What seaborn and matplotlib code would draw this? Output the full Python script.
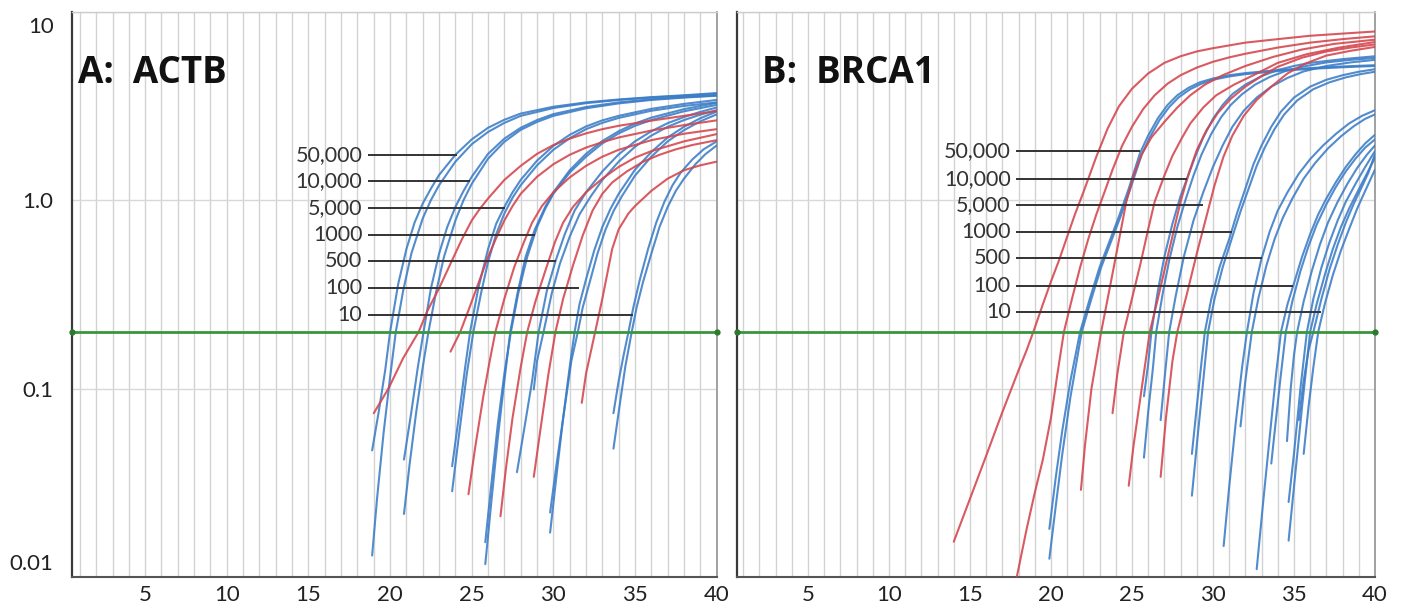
import matplotlib
matplotlib.use("Agg")
import matplotlib.pyplot as plt
import seaborn as sns
import pandas as pd
from matplotlib.ticker import NullLocator, FixedLocator
from matplotlib.transforms import ScaledTranslation

# ---------------- data ----------------
CYCLE_TICKS = [5, 10, 15, 20, 25, 30, 35, 40]
Y_TICKS = [0.01, 0.1, 1.0, 10]
Y_TICK_LABELS = ["0.01", "0.1", "1.0", "10"]
THRESHOLD = 0.2
PANEL_TITLES = ["A:  ACTB", "B:  BRCA1"]
DILUTION_LABELS = ["50,000", "10,000", "5,000", "1000", "500", "100", "10"]
ACTB_LABEL_Y = [1.73, 1.26, 0.91, 0.65, 0.475, 0.342, 0.247]
ACTB_LABEL_END = [24.1, 24.87, 27.03, 28.87, 30.15, 31.6, 34.9]
ACTB_LABEL_START = 18.65
BRCA1_LABEL_Y = [1.82, 1.30, 0.94, 0.68, 0.49, 0.352, 0.254]
BRCA1_LABEL_END = [25.5, 28.4, 29.4, 31.2, 33.0, 34.95, 36.7]
BRCA1_LABEL_START = 17.85

ACTB_BLUE = [
    [(18.9,0.047),(19.3,0.075),(19.7,0.125),(20.0,0.2),(20.5,0.36),(21.0,0.55),(21.5,0.76),(22.0,0.96),(22.5,1.15),(23.0,1.36),(24.0,1.74),(25.0,2.1),(26.0,2.42),(27.0,2.67),(28.0,2.88),(30.0,3.13),(32.0,3.3),(34.0,3.42),(36.0,3.52),(38.0,3.6),(40.0,3.7)],
    [(18.9,0.013),(19.2,0.026),(19.6,0.058),(20.0,0.115),(20.35,0.2),(20.8,0.33),(21.3,0.52),(22.0,0.8),(22.5,1.0),(23.0,1.2),(24.0,1.6),(25.0,1.98),(26.0,2.3),(27.0,2.57),(28.0,2.8),(30.0,3.08),(32.0,3.27),(34.0,3.4),(36.0,3.5),(38.0,3.58),(40.0,3.66)],
    [(20.85,0.042),(21.3,0.075),(21.7,0.13),(22.05,0.2),(22.5,0.34),(23.0,0.52),(23.5,0.72),(24.0,0.92),(24.5,1.12),(25.0,1.33),(26.0,1.76),(27.0,2.12),(28.0,2.42),(29.0,2.66),(30.0,2.86),(32.0,3.12),(34.0,3.3),(36.0,3.43),(38.0,3.52),(40.0,3.6)],
    [(20.85,0.0216),(21.2,0.04),(21.6,0.075),(22.0,0.13),(22.35,0.2),(22.8,0.32),(23.3,0.5),(24.0,0.78),(24.5,1.0),(25.0,1.22),(26.0,1.66),(27.0,2.04),(28.0,2.36),(29.0,2.6),(30.0,2.8),(32.0,3.07),(34.0,3.26),(36.0,3.4),(38.0,3.5),(40.0,3.58)],
    [(23.8,0.0387),(24.2,0.07),(24.6,0.13),(24.9,0.2),(25.4,0.34),(26.0,0.55),(26.5,0.75),(27.0,0.92),(27.5,1.1),(28.0,1.28),(29.0,1.62),(30.0,1.94),(31.0,2.22),(32.0,2.46),(33.0,2.65),(34.0,2.8),(36.0,3.05),(38.0,3.24),(40.0,3.4)],
    [(23.8,0.0285),(24.2,0.055),(24.7,0.12),(25.1,0.2),(25.6,0.33),(26.0,0.47),(26.5,0.66),(27.0,0.85),(27.5,1.03),(28.0,1.2),(29.0,1.53),(30.0,1.85),(31.0,2.13),(32.0,2.38),(33.0,2.57),(34.0,2.73),(36.0,2.98),(38.0,3.16),(40.0,3.3)],
    [(25.83,0.0117),(26.2,0.025),(26.6,0.055),(27.0,0.11),(27.36,0.2),(27.8,0.32),(28.3,0.5),(28.87,0.7),(29.5,0.92),(30.0,1.1),(31.0,1.44),(32.0,1.76),(33.0,2.06),(34.0,2.32),(35.0,2.55),(36.0,2.74),(38.0,3.04),(40.0,3.28)],
    [(25.83,0.0153),(26.2,0.031),(26.6,0.065),(27.0,0.12),(27.4,0.2),(27.85,0.32),(28.4,0.5),(29.0,0.72),(29.5,0.9),(30.0,1.08),(31.0,1.4),(32.0,1.7),(33.0,2.0),(34.0,2.26),(35.0,2.48),(36.0,2.66),(38.0,2.96),(40.0,3.2)],
    [(27.77,0.036),(28.2,0.06),(28.7,0.11),(29.1,0.2),(29.6,0.33),(30.15,0.48),(30.7,0.66),(31.3,0.88),(32.0,1.1),(33.0,1.42),(34.0,1.75),(35.0,2.05),(36.0,2.32),(37.0,2.56),(38.0,2.76),(39.0,2.94),(40.0,3.1)],
    [(28.8,0.099),(29.0,0.14),(29.4,0.2),(29.9,0.32),(30.4,0.46),(31.0,0.64),(31.6,0.84),(32.3,1.05),(33.0,1.28),(34.0,1.6),(35.0,1.92),(36.0,2.2),(37.0,2.45),(38.0,2.66),(39.0,2.84),(40.0,3.0)],
    [(29.8,0.0172),(30.2,0.035),(30.6,0.07),(31.0,0.13),(31.3,0.2),(31.6,0.28),(32.0,0.38),(32.5,0.54),(33.0,0.72),(33.5,0.9),(34.0,1.08),(35.0,1.45),(36.0,1.8),(37.0,2.15),(38.0,2.45),(39.0,2.72),(40.0,2.95)],
    [(29.8,0.022),(30.2,0.04),(30.7,0.08),(31.1,0.14),(31.5,0.2),(31.8,0.27),(32.2,0.36),(32.7,0.52),(33.2,0.7),(33.7,0.88),(34.2,1.05),(35.0,1.35),(36.0,1.7),(37.0,2.05),(38.0,2.35),(39.0,2.62),(40.0,2.85)],
    [(33.68,0.074),(34.0,0.11),(34.3,0.15),(34.6,0.2),(34.9,0.27),(35.3,0.38),(35.8,0.55),(36.3,0.76),(36.8,0.98),(37.3,1.2),(37.8,1.4),(38.5,1.64),(39.2,1.86),(40.0,2.05)],
    [(33.68,0.048),(34.0,0.075),(34.4,0.13),(34.8,0.2),(35.1,0.27),(35.5,0.37),(36.0,0.52),(36.5,0.72),(37.0,0.92),(37.5,1.12),(38.0,1.3),(38.7,1.55),(39.3,1.75),(40.0,1.95)],
]

ACTB_RED = [
    [(19.0,0.074),(19.9,0.1),(20.8,0.145),(21.75,0.2),(22.3,0.26),(23.0,0.34),(23.7,0.46),(24.4,0.62),(25.0,0.78),(25.5,0.9),(26.0,1.02),(27.0,1.28),(28.0,1.52),(29.0,1.76),(30.0,1.96),(31.0,2.12),(32.0,2.26),(33.0,2.38),(34.0,2.48),(36.0,2.64),(38.0,2.8),(40.0,2.97)],
    [(23.7,0.157),(24.3,0.2),(24.8,0.26),(25.4,0.36),(26.0,0.5),(26.5,0.63),(27.0,0.78),(27.5,0.93),(28.0,1.08),(29.0,1.33),(30.0,1.55),(31.0,1.74),(32.0,1.9),(33.0,2.03),(34.0,2.15),(36.0,2.34),(38.0,2.5),(40.0,2.65)],
    [(24.8,0.0275),(25.2,0.048),(25.7,0.09),(26.1,0.14),(26.45,0.2),(27.0,0.3),(27.6,0.44),(28.2,0.6),(28.7,0.76),(29.3,0.93),(30.0,1.1),(31.0,1.32),(32.0,1.52),(33.0,1.7),(34.0,1.85),(36.0,2.08),(38.0,2.25),(40.0,2.38)],
    [(26.76,0.021),(27.1,0.038),(27.5,0.07),(28.0,0.13),(28.4,0.2),(28.9,0.29),(29.5,0.42),(30.1,0.6),(30.6,0.76),(31.2,0.92),(32.0,1.1),(33.0,1.3),(34.0,1.5),(35.0,1.68),(36.0,1.82),(38.0,2.05),(40.0,2.24)],
    [(28.8,0.034),(29.2,0.06),(29.7,0.12),(30.13,0.2),(30.6,0.3),(31.2,0.45),(31.8,0.65),(32.4,0.88),(33.0,1.08),(33.6,1.24),(34.5,1.42),(35.5,1.6),(36.5,1.74),(37.5,1.86),(38.5,1.96),(40.0,2.08)],
    [(31.74,0.084),(32.0,0.12),(32.56,0.2),(33.0,0.3),(33.6,0.55),(34.0,0.7),(34.6,0.85),(35.0,0.93),(36.0,1.12),(37.0,1.3),(38.0,1.44),(39.0,1.53),(40.0,1.6)],
]

BRCA1_BLUE = [
    [(19.9,0.018),(20.3,0.034),(20.7,0.06),(21.2,0.11),(21.8,0.2),(22.4,0.3),(23.0,0.44),(23.6,0.6),(24.2,0.82),(24.8,1.15),(25.5,1.78),(26.0,2.2),(26.6,2.72),(27.2,3.2),(27.8,3.6),(28.5,3.95),(29.2,4.22),(30.0,4.42),(31.0,4.6),(32.0,4.72),(34.0,4.9),(36.0,5.02),(38.0,5.12),(40.0,5.2)],
    [(19.9,0.0125),(20.3,0.024),(20.7,0.045),(21.2,0.09),(21.9,0.2),(22.5,0.3),(23.1,0.44),(23.7,0.6),(24.3,0.82),(24.9,1.15),(25.6,1.74),(26.1,2.15),(26.7,2.66),(27.3,3.12),(27.9,3.52),(28.6,3.88),(29.3,4.15),(30.0,4.35),(31.0,4.53),(32.0,4.66),(34.0,4.84),(36.0,4.97),(38.0,5.07),(40.0,5.15)],
    [(25.74,0.091),(26.0,0.135),(26.2,0.2),(26.6,0.33),(27.0,0.5),(27.5,0.75),(28.0,1.05),(28.4,1.3),(28.9,1.7),(29.4,2.15),(30.0,2.7),(30.6,3.2),(31.2,3.65),(32.0,4.1),(33.0,4.55),(34.0,4.9),(35.0,5.15),(36.0,5.35),(38.0,5.6),(40.0,5.8)],
    [(25.74,0.043),(26.0,0.075),(26.3,0.13),(26.5,0.2),(26.9,0.32),(27.3,0.48),(27.8,0.72),(28.3,1.0),(28.8,1.35),(29.3,1.75),(29.9,2.25),(30.5,2.75),(31.1,3.2),(31.8,3.65),(32.6,4.1),(33.5,4.5),(34.5,4.85),(35.5,5.1),(37.0,5.38),(38.5,5.55),(40.0,5.68)],
    [(26.77,0.068),(27.0,0.11),(27.3,0.2),(27.7,0.31),(28.2,0.5),(28.8,0.78),(29.4,1.1),(30.0,1.5),(30.6,1.95),(31.2,2.45),(31.9,2.98),(32.7,3.5),(33.6,4.0),(34.6,4.45),(35.6,4.82),(37.0,5.15),(38.5,5.38),(40.0,5.55)],
    [(28.7,0.045),(29.0,0.08),(29.3,0.14),(29.5,0.2),(29.9,0.3),(30.4,0.44),(31.0,0.62),(31.5,0.86),(32.0,1.15),(32.5,1.55),(33.0,1.95),(33.6,2.45),(34.2,2.95),(35.0,3.5),(36.0,4.0),(37.0,4.35),(38.0,4.6),(39.0,4.8),(40.0,4.95)],
    [(28.7,0.027),(29.0,0.05),(29.4,0.11),(29.7,0.2),(30.1,0.3),(30.6,0.44),(31.2,0.64),(31.7,0.87),(32.2,1.15),(32.7,1.52),(33.2,1.9),(33.8,2.38),(34.4,2.85),(35.2,3.38),(36.2,3.88),(37.2,4.22),(38.2,4.48),(39.1,4.66),(40.0,4.8)],
    [(30.66,0.0146),(31.0,0.03),(31.4,0.065),(31.8,0.13),(32.1,0.2),(32.5,0.32),(33.0,0.49),(33.5,0.68),(34.0,0.88),(34.6,1.1),(35.3,1.38),(36.0,1.65),(36.8,1.95),(37.6,2.25),(38.4,2.55),(39.2,2.8),(40.0,3.0)],
    [(31.7,0.063),(32.0,0.11),(32.4,0.2),(32.8,0.3),(33.3,0.45),(33.8,0.62),(34.3,0.8),(34.9,1.02),(35.6,1.3),(36.3,1.57),(37.1,1.88),(37.9,2.18),(38.7,2.47),(39.4,2.7),(40.0,2.85)],
    [(32.7,0.011),(33.1,0.025),(33.5,0.055),(33.9,0.12),(34.2,0.2),(34.6,0.28),(34.95,0.35),(35.5,0.5),(36.0,0.66),(36.5,0.84),(37.0,1.02),(37.6,1.25),(38.2,1.5),(38.8,1.75),(39.4,2.0),(40.0,2.22)],
    [(33.6,0.04),(33.9,0.07),(34.2,0.12),(34.5,0.2),(34.9,0.29),(35.4,0.42),(35.9,0.57),(36.4,0.74),(37.0,0.95),(37.6,1.18),(38.2,1.42),(38.8,1.66),(39.4,1.9),(40.0,2.1)],
    [(34.57,0.0526),(34.8,0.1),(35.0,0.15),(35.2,0.2),(35.6,0.29),(36.1,0.42),(36.6,0.58),(37.1,0.76),(37.7,0.98),(38.3,1.22),(38.9,1.48),(39.5,1.74),(40.0,1.95)],
    [(34.67,0.025),(35.0,0.045),(35.4,0.1),(35.8,0.2),(36.2,0.3),(36.7,0.44),(37.2,0.6),(37.7,0.78),(38.2,0.98),(38.8,1.22),(39.4,1.5),(40.0,1.82)],
    [(34.67,0.0156),(35.0,0.03),(35.5,0.08),(36.0,0.2),(36.4,0.28),(36.9,0.4),(37.4,0.55),(37.9,0.72),(38.4,0.9),(39.0,1.14),(39.5,1.38),(40.0,1.68)],
    [(35.3,0.068),(35.6,0.11),(35.9,0.16),(36.2,0.2),(36.7,0.3),(37.2,0.43),(37.7,0.58),(38.2,0.76),(38.7,0.96),(39.2,1.18),(39.6,1.4),(40.0,1.75)],
    [(35.6,0.045),(35.9,0.08),(36.2,0.13),(36.5,0.2),(36.9,0.28),(37.4,0.4),(37.9,0.54),(38.4,0.7),(38.9,0.9),(39.4,1.12),(40.0,1.45)],
]

BRCA1_RED = [
    [(14.0,0.0154),(15.0,0.026),(16.0,0.044),(17.0,0.075),(18.0,0.125),(18.5,0.16),(19.0,0.21),(19.5,0.28),(20.0,0.37),(20.5,0.48),(21.0,0.64),(21.5,0.85),(22.0,1.1),(22.8,1.7),(23.5,2.4),(24.2,3.15),(25.0,3.9),(26.0,4.7),(27.0,5.35),(28.0,5.8),(29.0,6.15),(30.0,6.4),(32.0,6.85),(34.0,7.15),(36.0,7.45),(38.0,7.65),(40.0,7.85)],
    [(17.9,0.0101),(18.5,0.018),(19.0,0.028),(19.5,0.042),(20.0,0.07),(20.4,0.12),(20.8,0.2),(21.3,0.3),(21.8,0.44),(22.3,0.62),(22.8,0.84),(23.3,1.1),(23.8,1.45),(24.4,1.95),(25.0,2.45),(25.7,3.05),(26.4,3.6),(27.2,4.15),(28.0,4.6),(29.0,5.05),(30.0,5.42),(31.0,5.72),(32.0,5.98),(34.0,6.45),(36.0,6.85),(38.0,7.15),(40.0,7.4)],
    [(21.85,0.029),(22.1,0.05),(22.5,0.1),(23.1,0.2),(23.5,0.3),(24.0,0.5),(24.65,0.98),(25.1,1.35),(25.6,1.75),(26.2,2.15),(27.0,2.6),(27.8,3.1),(28.6,3.6),(29.5,4.1),(30.6,4.6),(32.0,5.15),(33.7,5.75),(35.5,6.3),(37.5,6.75),(40.0,7.1)],
    [(23.8,0.074),(24.1,0.12),(24.5,0.2),(25.0,0.3),(25.5,0.45),(26.0,0.7),(26.4,0.98),(27.0,1.35),(27.5,1.72),(28.1,2.15),(28.6,2.55),(29.4,3.1),(30.2,3.6),(31.3,4.1),(32.5,4.6),(34.0,5.35),(35.8,5.95),(37.8,6.45),(40.0,6.9)],
    [(24.8,0.0305),(25.1,0.05),(25.6,0.1),(26.1,0.2),(26.6,0.3),(27.2,0.5),(27.6,0.7),(28.0,0.98),(28.5,1.38),(29.0,1.84),(29.6,2.35),(30.3,2.9),(31.1,3.45),(32.0,4.0),(33.0,4.55),(34.0,5.1),(35.5,5.7),(37.0,6.15),(38.5,6.45),(40.0,6.7)],
    [(26.77,0.034),(27.1,0.07),(27.5,0.14),(27.8,0.2),(28.4,0.32),(29.0,0.52),(29.6,0.82),(30.1,1.2),(30.65,1.7),(31.2,2.2),(31.9,2.8),(32.7,3.4),(33.6,4.0),(34.6,4.7),(35.7,5.3),(37.0,5.85),(38.5,6.2),(40.0,6.5)],
]

# ---------------- styling ----------------
BLUE = "#3a7cc7"
RED = "#d5434c"
GREEN = "#3a963c"
GRID = "#d2d2d2"
INK = "#333333"

sns.set_theme(style="white")
plt.rcParams["font.family"] = ["Lato", "DejaVu Sans"]


def to_frame(blue, red):
    rows = []
    for dye, curves in (("blue", blue), ("red", red)):
        for i, curve in enumerate(curves):
            for c, v in curve:
                rows.append({"dye": dye, "curve": f"{dye}{i}", "cycle": c, "value": v})
    return pd.DataFrame(rows)


fig = plt.figure(figsize=(14.03, 6.08), dpi=100)
ax_a = fig.add_axes([0.0511, 0.051, 0.4597, 0.9298])
ax_b = fig.add_axes([0.5251, 0.051, 0.4549, 0.9298])

panels = [
    (ax_a, ACTB_BLUE, ACTB_RED, ACTB_LABEL_Y, ACTB_LABEL_END, ACTB_LABEL_START, (0.5, 40.0), 0.010, PANEL_TITLES[0]),
    (ax_b, BRCA1_BLUE, BRCA1_RED, BRCA1_LABEL_Y, BRCA1_LABEL_END, BRCA1_LABEL_START, (0.6, 40.0), 0.039, PANEL_TITLES[1]),
]

for k, (ax, blue, red, ly, lend, lstart, xlim, tx, title) in enumerate(panels):
    ax.set_yscale("log")
    df = to_frame(blue, red)
    sns.lineplot(data=df, x="cycle", y="value", hue="dye", units="curve",
                 estimator=None, palette={"blue": BLUE, "red": RED},
                 linewidth=1.5, legend=False, ax=ax, sort=False, zorder=3,
                 alpha=0.88)
    ax.set_xlim(*xlim)
    ax.set_ylim(0.0101, 9.9)
    ax.set_xlabel("")
    ax.set_ylabel("")

    # grid
    ax.xaxis.set_major_locator(FixedLocator(CYCLE_TICKS))
    ax.xaxis.set_minor_locator(FixedLocator(list(range(1, 41))))
    ax.yaxis.set_major_locator(FixedLocator(Y_TICKS))
    ax.yaxis.set_minor_locator(NullLocator())
    ax.grid(which="both", axis="x", color=GRID, lw=1.0, zorder=0)
    ax.grid(which="major", axis="y", color="#d8d8d8", lw=1.0, zorder=0)
    ax.set_axisbelow(True)
    ax.set_xticks(CYCLE_TICKS, [str(t) for t in CYCLE_TICKS])
    ax.tick_params(axis="both", which="both", length=0)
    ax.tick_params(axis="x", pad=6, labelsize=16, labelcolor="#222222")
    if k == 0:
        ax.set_yticks(Y_TICKS, Y_TICK_LABELS)
        ax.tick_params(axis="y", pad=13, labelsize=16, labelcolor="#222222")
        labs = ax.get_yticklabels()
        labs[0].set_transform(labs[0].get_transform() + ScaledTranslation(0, 0.15, fig.dpi_scale_trans))
        labs[-1].set_transform(labs[-1].get_transform() + ScaledTranslation(0, -0.13, fig.dpi_scale_trans))
    else:
        ax.set_yticks(Y_TICKS)
        ax.tick_params(axis="y", labelleft=False)

    for side, col, lw in (("left", "#3a3a3a", 1.6), ("bottom", "#555555", 1.5),
                          ("top", "#cccccc", 1.0), ("right", "#9a9a9a", 1.3)):
        ax.spines[side].set_color(col)
        ax.spines[side].set_linewidth(lw)

    # threshold
    ax.axhline(THRESHOLD, color=GREEN, lw=2.0, zorder=4)
    ax.plot([xlim[0], xlim[1]], [THRESHOLD, THRESHOLD], "o", ms=3.5,
            color="#2c7a2e", zorder=5, clip_on=False)

    # dilution labels
    ax.hlines(ly, lstart, lend, color=INK, lw=1.4, zorder=6)
    for lab, y in zip(DILUTION_LABELS, ly):
        ax.annotate(lab, xy=(lstart, y), xytext=(-4, 0), textcoords="offset points",
                    ha="right", va="center", fontsize=15.5, color=INK, zorder=7)

    ax.text(tx, 0.874, title, transform=ax.transAxes, ha="left", va="baseline",
            fontsize=26.5, fontweight="bold", color="#111111",
            family=["Open Sans", "DejaVu Sans"])

fig.savefig("out.png", dpi=100)
